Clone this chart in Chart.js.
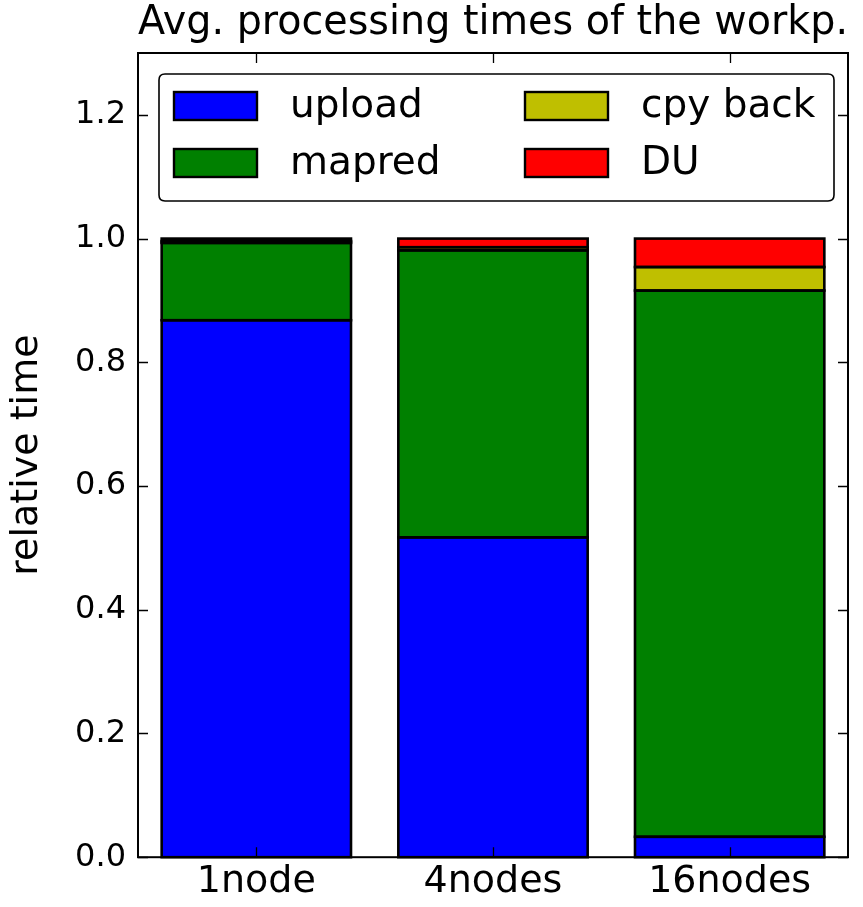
<!DOCTYPE html>
<html><head><meta charset="utf-8">
<script src="https://cdn.jsdelivr.net/npm/chart.js@4.4.1/dist/chart.umd.min.js"></script>
<style>html,body{margin:0;padding:0;background:#fff}#wrap{width:863px;height:907px}</style>
</head><body><div id="wrap"><canvas id="c" width="863" height="907"></canvas></div>
<script>
const categories = ["1node", "4nodes", "16nodes"];
const seriesNames = ["upload", "mapred", "cpy back", "DU"];
const upload = [0.868, 0.517, 0.033];
const mapred = [0.125, 0.464, 0.883];
const cpyBack = [0.003, 0.005, 0.038];
const du = [0.004, 0.014, 0.046];
const yTicks = [0.0, 0.2, 0.4, 0.6, 0.8, 1.0, 1.2];
const colors = ["#0000ff", "#008000", "#bfbf00", "#ff0000"];
const titleText = "Avg. processing times of the workp.";
const yTitle = "relative time";

const FONT = "'DejaVu Sans', sans-serif";
const datasets = [upload, mapred, cpyBack, du].map((d, i) => ({
  label: seriesNames[i], data: d, backgroundColor: colors[i],
  borderWidth: 0, inflateAmount: 0,
  barPercentage: 0.8, categoryPercentage: 1.0
}));

const edges = {
  id: "edges",
  afterDatasetsDraw(chart) {
    const ctx = chart.ctx;
    ctx.save();
    ctx.strokeStyle = "#000"; ctx.lineWidth = 2.6;
    chart.data.datasets.forEach((ds, i) => {
      chart.getDatasetMeta(i).data.forEach(el => {
        const p = el.getProps(["x", "y", "base", "width"], true);
        const top = Math.min(p.y, p.base), h = Math.abs(p.base - p.y);
        ctx.strokeRect(p.x - p.width / 2, top, p.width, h);
      });
    });
    ctx.restore();
  }
};

const frame = {
  id: "frame",
  afterDraw(chart) {
    const {ctx, chartArea: a, scales: {x, y}} = chart;
    ctx.save();
    ctx.strokeStyle = "#000"; ctx.lineWidth = 2;
    ctx.strokeRect(a.left, a.top, a.right - a.left, a.bottom - a.top);
    ctx.lineWidth = 1.3;
    const L = 10;
    yTicks.forEach(v => {
      const p = Math.round(y.getPixelForValue(v)) + 0.5;
      ctx.beginPath(); ctx.moveTo(a.left, p); ctx.lineTo(a.left + L, p);
      ctx.moveTo(a.right, p); ctx.lineTo(a.right - L, p); ctx.stroke();
    });
    categories.forEach((c, i) => {
      const p = Math.round(x.getPixelForValue(i)) + 0.5;
      ctx.beginPath(); ctx.moveTo(p, a.top); ctx.lineTo(p, a.top + L);
      ctx.moveTo(p, a.bottom); ctx.lineTo(p, a.bottom - L); ctx.stroke();
    });
    // legend
    const lx = 159, ly = 74, lw = 675, lh = 127, r = 6;
    ctx.fillStyle = "#fff"; ctx.lineWidth = 1.6;
    ctx.beginPath();
    ctx.moveTo(lx + r, ly); ctx.lineTo(lx + lw - r, ly); ctx.quadraticCurveTo(lx + lw, ly, lx + lw, ly + r);
    ctx.lineTo(lx + lw, ly + lh - r); ctx.quadraticCurveTo(lx + lw, ly + lh, lx + lw - r, ly + lh);
    ctx.lineTo(lx + r, ly + lh); ctx.quadraticCurveTo(lx, ly + lh, lx, ly + lh - r);
    ctx.lineTo(lx, ly + r); ctx.quadraticCurveTo(lx, ly, lx + r, ly); ctx.closePath();
    ctx.fill(); ctx.stroke();
    const pos = [[174, 92], [174, 149], [525, 92], [525, 149]];
    ctx.font = "39px " + FONT; ctx.textBaseline = "middle"; ctx.textAlign = "left";
    chart.data.datasets.forEach((ds, i) => {
      const [sx, sy] = pos[i];
      ctx.fillStyle = ds.backgroundColor; ctx.fillRect(sx, sy, 83, 28);
      ctx.lineWidth = 2.4; ctx.strokeStyle = "#000"; ctx.strokeRect(sx, sy, 83, 28);
      ctx.fillStyle = "#000"; ctx.fillText(ds.label, sx + 116, sy + 15);
    });
    ctx.restore();
  }
};

new Chart(document.getElementById("c"), {
  type: "bar",
  data: {labels: categories, datasets},
  options: {
    responsive: false, animation: false, devicePixelRatio: 1,
    layout: {padding: {left: 0, right: 15, top: 0, bottom: 0}},
    plugins: {
      legend: {display: false}, tooltip: {enabled: false},
      title: {display: true, fullSize: false, text: titleText, color: "#000",
        font: {family: FONT, size: 40, weight: "normal", lineHeight: 1.15}, padding: {top: 1, bottom: 6}}
    },
    scales: {
      x: {stacked: true, grid: {display: false, drawTicks: false}, border: {display: false},
        ticks: {color: "#000", font: {family: FONT, size: 38, lineHeight: 1.1}, padding: 4}},
      y: {stacked: true, min: 0, max: 1.3, grid: {display: false, drawTicks: false}, border: {display: false},
        afterBuildTicks: s => { s.ticks = yTicks.map(v => ({value: v})); },
        afterFit: s => { s.width = 138; },
        ticks: {color: "#000", font: {family: FONT, size: 32}, padding: 12,
          callback: v => Number(v).toFixed(1)},
        title: {display: true, text: yTitle, color: "#000", font: {family: FONT, size: 38}, padding: {bottom: 4}}}
    }
  },
  plugins: [edges, frame]
});
</script></body></html>
